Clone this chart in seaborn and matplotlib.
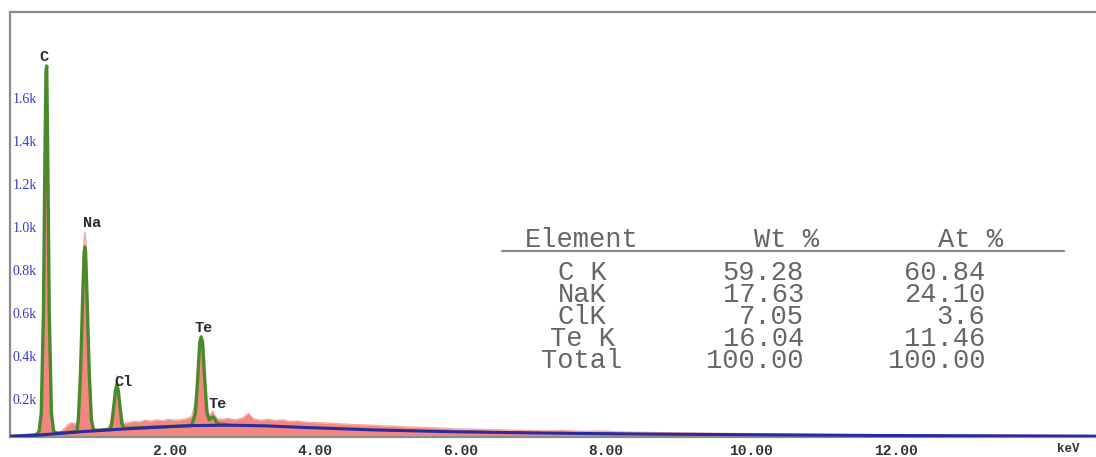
import matplotlib
matplotlib.use("Agg")
import matplotlib.pyplot as plt
import matplotlib.transforms as mtransforms
from matplotlib.lines import Line2D
import seaborn as sns

# ---- measured spectrum (energy in keV, intensity in counts) ----
spec_kev = [0.00, 0.10, 0.20, 0.30, 0.36,
            0.40, 0.43, 0.46, 0.48, 0.50, 0.52, 0.54, 0.57, 0.60,
            0.65, 0.70, 0.75, 0.80, 0.85, 0.88, 0.91,
            0.94, 0.97, 1.00, 1.02, 1.03, 1.04, 1.06, 1.09, 1.12,
            1.16, 1.22, 1.28, 1.34,
            1.38, 1.41, 1.44, 1.46, 1.47, 1.48, 1.50, 1.53, 1.56,
            1.62, 1.70, 1.78, 1.86, 1.94, 2.02, 2.10, 2.18, 2.26, 2.34, 2.42,
            2.50, 2.56, 2.59, 2.61, 2.63, 2.65, 2.67, 2.70, 2.74, 2.77, 2.79, 2.81, 2.85,
            2.92, 3.00, 3.10, 3.20, 3.28, 3.35, 3.45, 3.55, 3.65, 3.75, 3.85, 3.95,
            4.10, 4.30, 4.50, 4.70, 4.90, 5.10, 5.30, 5.50, 5.70, 5.90,
            6.10, 6.35, 6.60, 6.85, 7.10, 7.35, 7.60, 7.85, 8.10, 8.35, 8.60,
            9.00, 9.50, 10.00, 10.50, 11.00, 11.50, 12.00, 13.00, 14.00, 14.94]
spec_counts = [4, 6, 8, 10, 14,
               30, 120, 600, 1300, 1720, 1300, 600, 120, 30,
               20, 24, 40, 58, 66, 62, 60,
               90, 330, 700, 920, 953, 920, 700, 330, 90,
               38, 34, 36, 40,
               60, 120, 185, 200, 285, 200, 185, 120, 62,
               66, 72, 70, 78, 74, 80, 76, 82, 78, 80, 84,
               95, 180, 300, 440, 470, 440, 300, 150, 100, 110, 120, 105, 85,
               82, 86, 80, 88, 110, 84, 78, 82, 76, 80, 72, 74,
               68, 66, 62, 58, 56, 52, 50, 46, 44, 42,
               38, 36, 34, 32, 30, 28, 30, 26, 28, 24, 22,
               20, 18, 16, 14, 12, 11, 10, 8, 7, 6]

# ---- fitted spectrum (background + peaks) ----
fit_kev = [0.00, 0.36,
           0.40, 0.43, 0.46, 0.48, 0.495, 0.505, 0.52, 0.54, 0.57, 0.60,
           0.65, 0.92,
           0.94, 0.97, 1.00, 1.02, 1.03, 1.04, 1.06, 1.09, 1.12, 1.15,
           1.38,
           1.40, 1.43, 1.45, 1.47, 1.49, 1.51, 1.54, 1.57,
           2.50,
           2.55, 2.58, 2.61, 2.63, 2.65, 2.68, 2.71, 2.74, 2.77, 2.79, 2.81, 2.85,
           3.00]
fit_counts = [3, 10,
              25, 110, 580, 1290, 1700, 1725, 1290, 580, 110, 25,
              18, 24,
              80, 300, 650, 860, 884, 860, 650, 300, 80, 30,
              35,
              60, 150, 215, 245, 215, 150, 60, 40,
              53,
              110, 260, 440, 465, 440, 260, 110, 80, 90, 93, 88, 62,
              55]

# ---- continuum background ----
bkg_kev = [0.0, 0.4, 1.0, 1.5, 2.0, 2.5, 3.0, 3.5, 4.0, 5.0, 6.0, 7.0,
           8.0, 9.0, 10.0, 11.0, 12.0, 13.0, 14.0, 14.94]
bkg_counts = [3, 9, 25, 36, 45, 53, 55, 52, 45, 33, 25, 20,
              16, 13, 11, 9, 7, 6, 5, 4]

# ---- peak identification labels ----
peak_names = ["C", "Na", "Cl", "Te", "Te"]
peak_kev = [0.47, 1.13, 1.56, 2.67, 2.86]
peak_counts = [1765, 995, 256, 507, 153]

# ---- axis ticks ----
x_ticks = [2, 4, 6, 8, 10, 12]
x_tick_labels = ["2.00", "4.00", "6.00", "8.00", "10.00", "12.00"]
y_ticks = [200, 400, 600, 800, 1000, 1200, 1400, 1600, 1800]
y_tick_labels = ["0.2k", "0.4k", "0.6k", "0.8k", "1.0k", "1.2k", "1.4k", "1.6k", ""]

# ---- quantification table ----
table_header = ["Element", "Wt %", "At %"]
table_elements = ["C K", "NaK", "ClK", "Te K", "Total"]
table_wt = ["59.28", "17.63", "7.05", "16.04", "100.00"]
table_at = ["60.84", "24.10", "3.6", "11.46", "100.00"]

W, H = 1096, 457
sns.set_style("white")
fig = plt.figure(figsize=(W / 100, H / 100), dpi=100)
fig.patch.set_facecolor("white")


def fx(px):
    return px / W


def fy(py):
    return 1 - py / H


ax = fig.add_axes([fx(10), fy(437), fx(1096) - fx(10), fy(12) - fy(437)])
ax.set_facecolor("white")

# spectrum fill
ax.fill_between(spec_kev, spec_counts, 0, color="#f2877f", linewidth=0, zorder=1)
sns.lineplot(x=spec_kev, y=spec_counts, ax=ax, color="#f6a9a2", linewidth=1.0,
             sort=False, estimator=None, zorder=2)
# fitted profile and background
sns.lineplot(x=fit_kev, y=fit_counts, ax=ax, color="#4b8a2b", linewidth=2.4,
             sort=False, estimator=None, zorder=3)
sns.lineplot(x=bkg_kev, y=bkg_counts, ax=ax, color="#2b2a9e", linewidth=2.2,
             sort=False, estimator=None, zorder=4)

ax.set_xlim(0, 14.94)
ax.set_ylim(0, 1976)

# peak labels
for name, xk, yc in zip(peak_names, peak_kev, peak_counts):
    ax.text(xk, yc, name, ha="center", va="center", fontsize=11,
            fontweight="bold", family="Liberation Mono", color="#2a2a2a", zorder=5)

# spines
for side in ("left", "top", "bottom"):
    ax.spines[side].set_visible(True)
    ax.spines[side].set_color("#8c8c8c")
    ax.spines[side].set_linewidth(1.6)
ax.spines["right"].set_visible(False)

# x axis ticks
ax.set_xticks(x_ticks)
ax.set_xticklabels(x_tick_labels)
ax.tick_params(axis="x", direction="out", length=3, width=2, color="#333333",
               pad=2, labelsize=10.5, labelcolor="#333333")
shift = mtransforms.ScaledTranslation(14 / 100, 0, fig.dpi_scale_trans)
for lab in ax.get_xticklabels():
    lab.set_fontfamily("Liberation Mono")
    lab.set_fontweight("bold")
    lab.set_transform(lab.get_transform() + shift)

# y axis ticks drawn inside the frame
ax.set_yticks(y_ticks)
ax.set_yticklabels(y_tick_labels)
ax.tick_params(axis="y", direction="in", length=5, width=1.2, color="#3a3ad0",
               pad=-2, labelsize=10, labelcolor="#3a3ad0")
for lab in ax.get_yticklabels():
    lab.set_fontfamily("Liberation Serif")
    lab.set_horizontalalignment("left")
    lab.set_verticalalignment("top")

fig.text(fx(1068), fy(449), "keV", ha="center", va="center", fontsize=9,
         fontweight="bold", family="Liberation Mono", color="#333333")

# quantification table: header, rule, then one block of lines per column
tcol = "#666666"
tsize = 19.5
tfont = dict(fontsize=tsize, family="Liberation Mono", color=tcol)
fig.text(fx(582), fy(240), table_header[0], ha="center", va="center", **tfont)
fig.text(fx(787), fy(240), table_header[1], ha="center", va="center", **tfont)
fig.text(fx(971), fy(240), table_header[2], ha="center", va="center", **tfont)
fig.add_artist(Line2D([fx(502), fx(1064)], [fy(251), fy(251)],
                      color="#8a8a8a", linewidth=1.6, transform=fig.transFigure))

rows_top = 260
line_gap = 0.80
fig.text(fx(582), fy(rows_top), "\n".join(table_elements), ha="center", va="top",
         multialignment="center", linespacing=line_gap, **tfont)
fig.text(fx(804), fy(rows_top), "\n".join(table_wt), ha="right", va="top",
         multialignment="right", linespacing=line_gap, **tfont)
fig.text(fx(985), fy(rows_top), "\n".join(table_at), ha="right", va="top",
         multialignment="right", linespacing=line_gap, **tfont)

fig.savefig("out.png", dpi=100, facecolor="white")
